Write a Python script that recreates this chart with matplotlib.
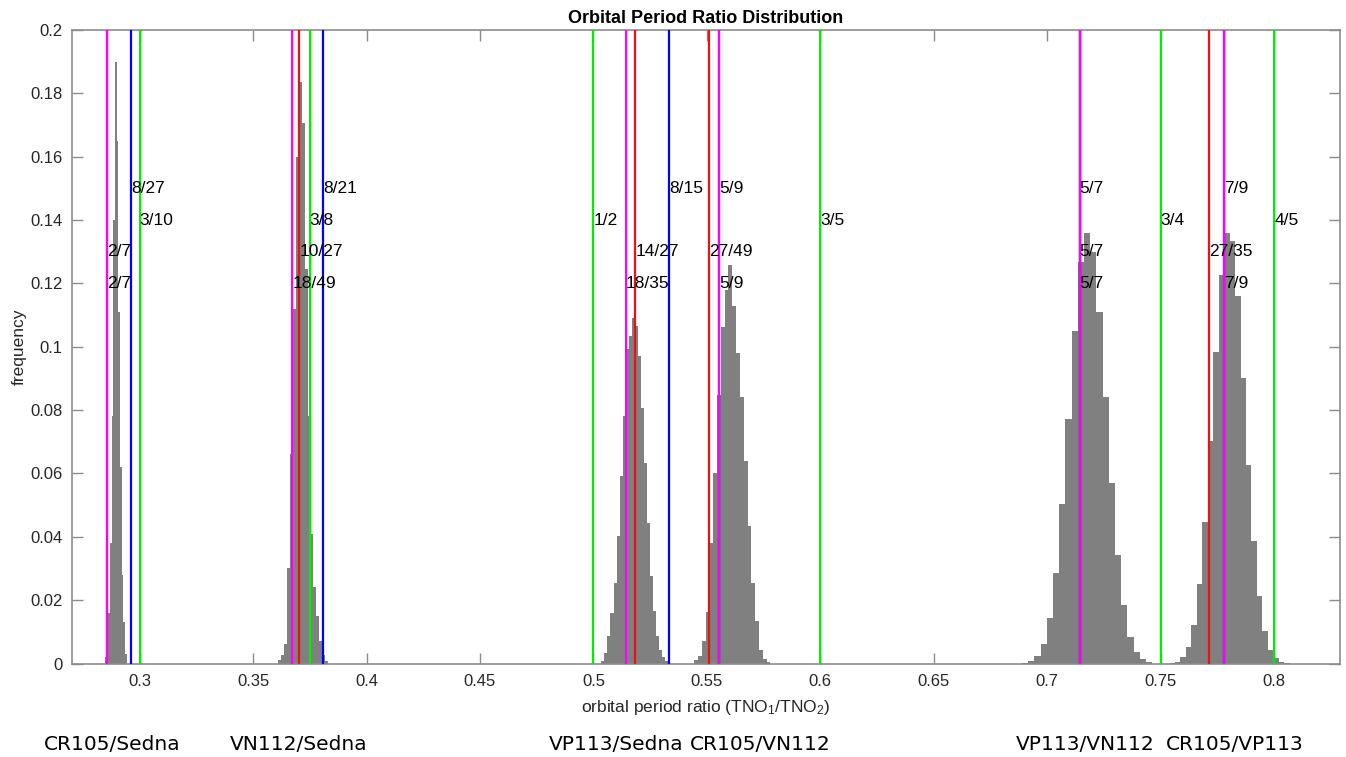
import numpy as np
import matplotlib
matplotlib.use("Agg")
import matplotlib.pyplot as plt
from fractions import Fraction

plt.rcParams['font.family'] = ['Liberation Sans', 'DejaVu Sans']
plt.rcParams['mathtext.fontset'] = 'custom'
plt.rcParams['mathtext.rm'] = 'Liberation Sans'
plt.rcParams['mathtext.it'] = 'Liberation Sans'

# pairs of TNOs
pairs = ['CR105/Sedna', 'VN112/Sedna', 'VP113/Sedna', 'CR105/VN112', 'VP113/VN112', 'CR105/VP113']

# resonance labels for each pair (blue, green, red, magenta)
res_blue = ['8/27', '8/21', '8/15', '5/9', '5/7', '7/9']
res_green = ['3/10', '3/8', '1/2', '3/5', '3/4', '4/5']
res_red = ['2/7', '10/27', '14/27', '27/49', '5/7', '27/35']
res_magenta = ['2/7', '18/49', '18/35', '5/9', '5/7', '7/9']

# histograms: first bin edge, bin width, probabilities
h_start = [0.28465, 0.3608, 0.5035, 0.5444, 0.6889, 0.7539]
h_width = [0.00075, 0.00132, 0.00134, 0.00168, 0.00273, 0.002405]
h_cr105_sedna = [0.002, 0.006, 0.016, 0.038, 0.078, 0.14, 0.19, 0.165, 0.111, 0.062, 0.028, 0.013, 0.003]
h_vn112_sedna = [0.001, 0.0028, 0.006, 0.03, 0.066, 0.1118, 0.16, 0.1836, 0.1705, 0.1245, 0.078,
                 0.041, 0.024, 0.015, 0.007, 0.0028, 0.0007]
h_vp113_sedna = [0.0007, 0.0034, 0.0086, 0.016, 0.0255, 0.0402, 0.0592, 0.078, 0.0992, 0.1034, 0.1092,
                 0.1066, 0.097, 0.0808, 0.0634, 0.0444, 0.0276, 0.0165, 0.0086, 0.0044, 0.002, 0.0008]
h_cr105_vn112 = [0.001, 0.0025, 0.007, 0.0162, 0.038, 0.0602, 0.0847, 0.1063, 0.118, 0.1257, 0.113,
                 0.098, 0.084, 0.064, 0.0433, 0.0255, 0.0134, 0.0044, 0.0015, 0.0005]
h_vp113_vn112 = [0.0003, 0.0007, 0.0023, 0.0063, 0.0144, 0.0286, 0.0503, 0.0772, 0.105, 0.1266, 0.136,
                 0.130, 0.111, 0.0842, 0.0571, 0.0342, 0.0184, 0.0084, 0.0035, 0.0013, 0.0004]
h_cr105_vp113 = [0.0002, 0.0006, 0.0021, 0.0053, 0.0123, 0.025, 0.0448, 0.0702, 0.0982, 0.1227, 0.136,
                 0.1334, 0.1161, 0.090, 0.0627, 0.0386, 0.0213, 0.0102, 0.0042, 0.0016, 0.0005, 0.0002]
h_values = [h_cr105_sedna, h_vn112_sedna, h_vp113_sedna, h_cr105_vn112, h_vp113_vn112, h_cr105_vp113]

label_x = [112.5, 299, 616, 760, 1085, 1235]  # pixel centres of the pair names

fig = plt.figure(figsize=(13.46, 7.57), dpi=100)
ax = fig.add_axes([71.5 / 1346, 1 - 663.5 / 757, (1340 - 71.5) / 1346, (663.5 - 30) / 757])

for s, w, h in zip(h_start, h_width, h_values):
    left = s + w * np.arange(len(h))
    ax.bar(left, h, width=w, align='edge', color='#808080', edgecolor='none', zorder=2)

line_sets = [(res_blue, '#0000ff', 0.15), (res_green, '#00ee00', 0.14),
             (res_red, '#ee1111', 0.13), (res_magenta, '#ff00ff', 0.12)]
for labels, col, ytxt in line_sets:
    for lab in labels:
        v = float(Fraction(lab))
        ax.axvline(v, color=col, lw=1.6, zorder=3)
for labels, col, ytxt in line_sets:
    for lab in labels:
        v = float(Fraction(lab))
        ax.text(v, ytxt, lab, ha='left', va='center', fontsize=12.5, color='black', zorder=5)

ax.set_xlim(0.27, 0.829)
ax.set_ylim(0, 0.2)
ax.set_xticks(np.arange(0.3, 0.801, 0.05))
ax.set_xticklabels(['0.3', '0.35', '0.4', '0.45', '0.5', '0.55', '0.6', '0.65', '0.7', '0.75', '0.8'])
ax.set_yticks(np.arange(0, 0.201, 0.02))
ax.set_yticklabels(['0', '0.02', '0.04', '0.06', '0.08', '0.1', '0.12', '0.14', '0.16', '0.18', '0.2'])

for sp in ax.spines.values():
    sp.set_color('#8c8c8c')
    sp.set_linewidth(1.2)
ax.tick_params(direction='in', top=True, right=True, length=8, width=1.0, color='#8c8c8c',
               labelsize=12, labelcolor='#262626')
ax.tick_params(axis='x', pad=7.5)
ax.tick_params(axis='y', pad=6.5)

ax.set_title('Orbital Period Ratio Distribution', fontsize=13, fontweight='bold', pad=5)
ax.set_xlabel('orbital period ratio (TNO$_1$/TNO$_2$)', fontsize=12.5, color='#262626', labelpad=6.5)
ax.set_ylabel('frequency', fontsize=12.5, color='#262626', labelpad=2.5)

for name, px in zip(pairs, label_x):
    fig.text(px / 1346, 1 - 745 / 757, name, ha='center', va='center', fontsize=14.5,
             family=['DejaVu Sans'])

fig.savefig('out.png', dpi=100)
